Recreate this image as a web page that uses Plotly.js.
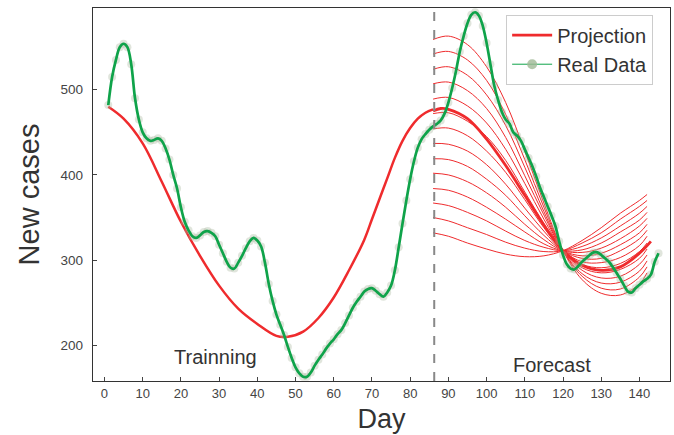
<!DOCTYPE html>
<html>
<head>
<meta charset="utf-8">
<script src="https://cdn.plot.ly/plotly-3.0.1.min.js"></script>
<style>html,body{margin:0;padding:0;background:#fff;}#chart{width:674px;height:435px;}</style>
</head>
<body>
<div id="chart"></div>
<script>
// Real data (daily new cases)
const realDays = [1,2,3,4,5,6,7,8,9,10,11,12,13,14,15,16,17,18,19,20,21,22,23,24,25,26,27,28,29,30,31,32,33,34,35,36,37,38,39,40,41,42,43,44,45,46,47,48,49,50,51,52,53,54,55,56,57,58,59,60,61,62,63,64,65,66,67,68,69,70,71,72,73,74,75,76,77,78,79,80,81,82,83,84,85,86,87,88,89,90,91,92,93,94,95,96,97,98,99,100,101,102,103,104,105,106,107,108,109,110,111,112,113,114,115,116,117,118,119,120,121,122,123,124,125,126,127,128,129,130,131,132,133,134,135,136,137,138,139,140,141,142,143,144,145];
const realCases = [482,515,535,550,554,550,530,490,465,450,443,440,441,443,440,431,418,400,384,362,345,335,328,326,329,333,334,332,328,318,308,298,291,290,297,305,314,322,326,323,316,297,272,252,236,224,212,198,185,174,167,163,163,168,176,183,189,196,202,207,213,218,226,235,244,251,257,263,266,267,264,260,257,262,270,288,315,343,370,395,416,432,442,448,453,457,460,464,472,485,502,522,545,563,578,588,591,587,575,555,530,505,488,474,465,460,450,446,440,430,420,410,398,385,374,363,352,340,322,306,295,290,289,293,298,302,306,309,309,306,302,298,292,285,278,270,263,262,267,271,275,278,283,298,308];

// Fitted curve over the training window
const trainDays = [1,5,10,15,20,25,30,35,40,45,48,52,56,60,64,68,70,72,74,76,78,80,82,84,86];
const trainFit = [480,466,437,392,345,305,270,243,225,211,210,216,232,256,288,324,348,372,396,420,440,455,466,473,477];

// Main projection (bold)
const mainProjDays = [86,88,90,95,100,105,110,115,120,125,130,135,140,143];
const mainProj = [475,478,477,466,442,411,376,341,311,294,288,292,308,322];

// Projection ensemble (thin lines)
const projDays = [86,90,95,100,105,110,115,120,125,130,135,140,142];
const projLines = [
  [559,563,553,527,485,428,367,311,277,261,259,272,285],
  [542,545,535,511,471,418,362,311,281,267,266,280,292],
  [524,527,517,494,458,409,357,311,284,273,274,287,299],
  [507,509,499,478,444,399,353,311,288,279,281,295,306],
  [489,491,481,461,430,390,348,311,291,285,289,302,313],
  [472,473,463,445,417,380,343,311,295,291,296,310,320],
  [454,455,446,428,403,371,338,311,298,297,303,317,328],
  [437,436,428,412,389,361,334,311,302,302,311,325,335],
  [419,418,410,395,376,352,329,311,305,308,318,332,342],
  [402,400,392,379,362,342,324,311,309,314,325,340,349],
  [384,382,374,362,348,333,319,311,312,320,333,347,356],
  [367,364,356,346,334,323,315,311,316,326,340,355,363],
  [350,346,338,330,321,314,310,311,320,332,348,363,370],
  [332,328,320,313,307,304,305,311,323,338,355,370,377]
];

const splitDay = 86.3;
const xTicks = [0,10,20,30,40,50,60,70,80,90,100,110,120,130,140];
const yTicks = [200,300,400,500];

const RED = '#ef2b2d';
const GREEN = '#0fa34a';

const traces = [];
projLines.forEach(v => traces.push({
  x: projDays, y: v, type: 'scatter', mode: 'lines',
  line: {color: RED, width: 1, shape: 'spline'}, showlegend: false, hoverinfo: 'skip'
}));
traces.push({x: trainDays, y: trainFit, type: 'scatter', mode: 'lines',
  line: {color: RED, width: 2.5, shape: 'spline'}, showlegend: false});
traces.push({x: mainProjDays, y: mainProj, type: 'scatter', mode: 'lines', name: 'Projection',
  line: {color: RED, width: 2.8, shape: 'spline'}, showlegend: true});
traces.push({x: realDays, y: realCases, type: 'scatter', mode: 'markers', showlegend: false,
  marker: {size: 8, color: 'rgba(165,180,155,0.35)'}});
traces.push({x: realDays, y: realCases, type: 'scatter', mode: 'lines', showlegend: false,
  line: {color: GREEN, width: 2.7, shape: 'spline'}});
traces.push({x: [null], y: [null], type: 'scatter', mode: 'lines+markers', name: 'Real Data',
  line: {color: GREEN, width: 1}, marker: {size: 10, color: 'rgba(160,185,150,0.8)'}, showlegend: true});

const layout = {
  width: 674, height: 435,
  margin: {l: 93, r: 4, t: 8, b: 54},
  paper_bgcolor: '#fff', plot_bgcolor: '#fff',
  font: {family: 'Liberation Sans, Arial, sans-serif', color: '#444'},
  showlegend: true,
  legend: {x: 0.716, y: 0.982, xanchor: 'left', yanchor: 'top', bgcolor: '#fff',
    bordercolor: '#cccccc', borderwidth: 1, font: {size: 20, color: '#333'},
    tracegroupgap: 0, itemwidth: 40},
  xaxis: {range: [-3, 148], tickvals: xTicks, ticks: 'inside', ticklen: 4, tickcolor: '#444',
    showgrid: false, zeroline: false, showline: true, linecolor: '#333', linewidth: 1.2, mirror: true,
    tickfont: {size: 13, color: '#444'},
    title: {text: 'Day', font: {size: 27, color: '#333'}, standoff: 9}},
  yaxis: {range: [158, 596], tickvals: yTicks, ticks: 'inside', ticklen: 4, tickcolor: '#444',
    showgrid: false, zeroline: false, showline: true, linecolor: '#333', linewidth: 1.2, mirror: true,
    tickfont: {size: 13.5, color: '#444'}, ticklabelstandoff: 6,
    title: {text: 'New cases', font: {size: 29, color: '#333'}, standoff: 12}},
  shapes: [{type: 'line', xref: 'x', yref: 'paper', x0: splitDay, x1: splitDay, y0: 0, y1: 1,
    line: {color: '#888', width: 2, dash: 'dash'}}],
  annotations: [
    {x: 29, y: 186, xref: 'x', yref: 'y', text: 'Trainning', showarrow: false, font: {size: 20, color: '#333'}},
    {x: 117, y: 177, xref: 'x', yref: 'y', text: 'Forecast', showarrow: false, font: {size: 20, color: '#333'}}
  ]
};

Plotly.newPlot('chart', traces, layout, {displayModeBar: false, staticPlot: true});
</script>
</body>
</html>
